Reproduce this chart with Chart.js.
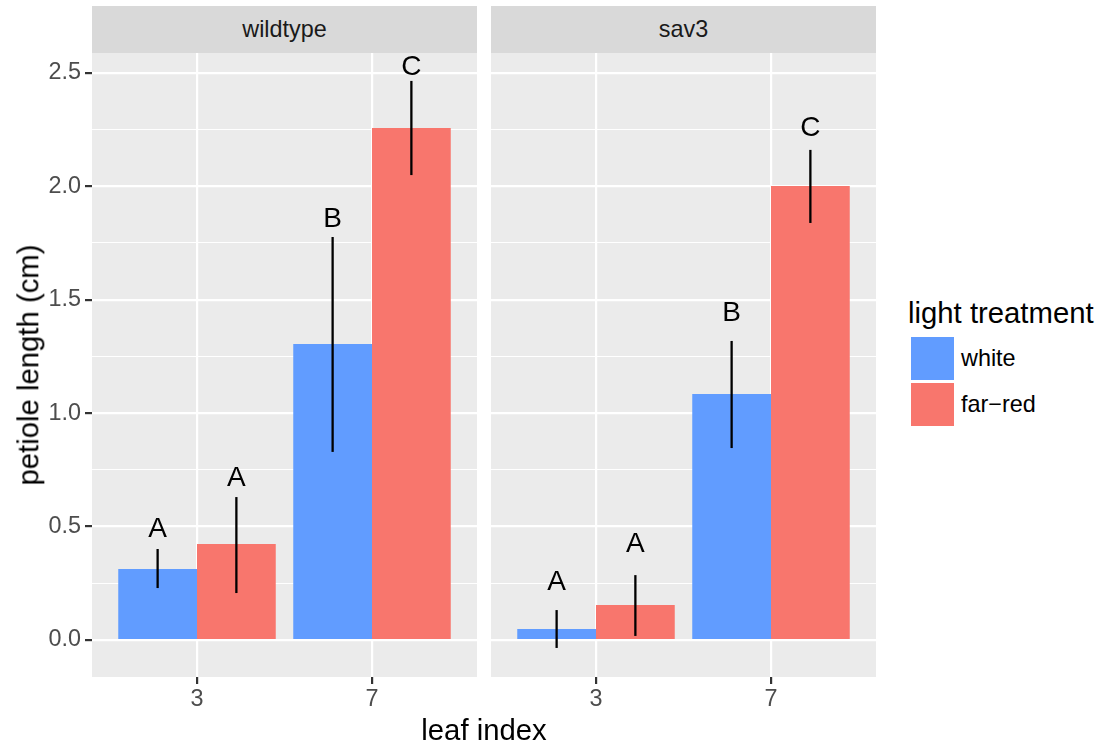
<!DOCTYPE html>
<html>
<head>
<meta charset="utf-8">
<script src="https://cdn.jsdelivr.net/npm/chart.js@4"></script>
<style>
body { margin: 0; background: #fff; font-family: "Liberation Sans", Arial, sans-serif; }
#wrap { position: relative; width: 1106px; height: 746px; overflow: hidden; }
.panel { position: absolute; top: 53px; height: 664px; }
.strip { position: absolute; top: 6px; height: 47px; width: 385px; background: #D9D9D9; color: #1A1A1A;
         font-size: 23.4px; text-align: center; line-height: 47px; }
.txt { position: absolute; line-height: 1; white-space: nowrap; color: #000; }
.key { position: absolute; left: 911px; width: 43px; height: 43px; }
</style>
</head>
<body>
<div id="wrap">
  <div class="strip" style="left:92px">wildtype</div>
  <div class="strip" style="left:491px">sav3</div>
  <div class="panel" style="left:0;width:477px"><canvas id="wt"></canvas></div>
  <div class="panel" style="left:491px;width:385px"><canvas id="sav"></canvas></div>

  <div class="txt" style="left:28px;top:365px;font-size:29.3px;transform:translate(-50%,-50%) rotate(-90deg)">petiole length (cm)</div>
  <div class="txt" style="left:484px;top:715px;font-size:29.3px;transform:translateX(-50%)">leaf index</div>

  <div class="txt" style="left:908px;top:298px;font-size:29.3px">light treatment</div>
  <div class="key" style="top:337px;background:#619CFF"></div>
  <div class="key" style="top:383px;background:#F8766D"></div>
  <div class="txt" style="left:961px;top:347px;font-size:23.4px">white</div>
  <div class="txt" style="left:961px;top:393px;font-size:23.4px">far&minus;red</div>
</div>
<script>
const FONT = '"Liberation Sans", Arial, sans-serif'

// data
const leafIndex = ['3','7']
const treatments = ['white','far-red']

const wtWhite = [0.313, 1.305]
const wtWhiteLo = [0.229, 0.829]
const wtWhiteHi = [0.401, 1.776]
const wtWhiteLetter = ['A','B']
const wtWhiteLetterY = [0.498, 1.864]

const wtRed = [0.423, 2.256]
const wtRedLo = [0.207, 2.049]
const wtRedHi = [0.630, 2.464]
const wtRedLetter = ['A','C']
const wtRedLetterY = [0.723, 2.534]

const savWhite = [0.048, 1.084]
const savWhiteLo = [-0.035, 0.846]
const savWhiteHi = [0.132, 1.318]
const savWhiteLetter = ['A','B']
const savWhiteLetterY = [0.264, 1.448]

const savRed = [0.154, 2.001]
const savRedLo = [0.018, 1.838]
const savRedHi = [0.286, 2.160]
const savRedLetter = ['A','C']
const savRedLetterY = [0.430, 2.265]

const yMajor = [0, 0.5, 1, 1.5, 2, 2.5]
const yLabels = ['0.0','0.5','1.0','1.5','2.0','2.5']
const yMinor = [0.25, 0.75, 1.25, 1.75, 2.25]

const colours = ['#619CFF', '#F8766D']

const panelBg = {
    id: 'panelBg',
    beforeDraw(c) {
        const a = c.chartArea
        c.ctx.save()
        c.ctx.fillStyle = '#EBEBEB'
        c.ctx.fillRect(a.left, a.top, a.right - a.left, a.bottom - a.top)
        c.ctx.restore()
    }
}

// error bars + significance letters, placed through the y scale
const errLetters = {
    id: 'errLetters',
    afterDatasetsDraw(c) {
        const ctx = c.ctx, y = c.scales.y
        ctx.save()
        c.data.datasets.forEach((ds, i) => {
            c.getDatasetMeta(i).data.forEach((bar, j) => {
                ctx.strokeStyle = '#000'
                ctx.lineWidth = 2.3
                ctx.beginPath()
                ctx.moveTo(bar.x, y.getPixelForValue(ds.lo[j]))
                ctx.lineTo(bar.x, y.getPixelForValue(ds.hi[j]))
                ctx.stroke()
                ctx.fillStyle = '#000'
                ctx.font = '28px ' + FONT
                ctx.textAlign = 'center'
                ctx.textBaseline = 'alphabetic'
                ctx.fillText(ds.letters[j], bar.x, y.getPixelForValue(ds.letterY[j]) + 10)
            })
        })
        ctx.restore()
    }
}

const isMajor = v => yMajor.includes(v)

const panel = (el, sets, showY) => new Chart(document.getElementById(el), {
    type: 'bar',
    data: {
        datasets: sets.map((s, k) => ({
            label: treatments[k],
            data: s.v.map((v, i) => ({ x: i + 1, y: v })),
            backgroundColor: colours[k],
            borderWidth: 0,
            lo: s.lo, hi: s.hi, letters: s.letters, letterY: s.letterY
        }))
    },
    options: {
        responsive: true,
        maintainAspectRatio: false,
        animation: false,
        layout: { padding: 0 },
        datasets: { bar: { categoryPercentage: 0.9, barPercentage: 1 } },
        plugins: { legend: { display: false }, tooltip: { enabled: false } },
        scales: {
            x: {
                type: 'linear', min: 0.4, max: 2.6, offset: false,
                afterBuildTicks: s => { s.ticks = leafIndex.map((_, i) => ({ value: i + 1 })) },
                afterFit: s => { s.height = 40; s.paddingLeft = 0; s.paddingRight = 0 },
                ticks: { callback: v => leafIndex[v - 1], color: '#4D4D4D', font: { size: 23.4, family: FONT },
                         padding: 2, maxRotation: 0, autoSkip: false },
                grid: { offset: false, color: '#fff', lineWidth: 2.2, tickColor: '#333', tickLength: 7, tickWidth: 2.2 },
                border: { display: false }
            },
            y: {
                type: 'linear', min: -0.163, max: 2.587,
                afterBuildTicks: s => { s.ticks = yMajor.concat(yMinor).sort((a, b) => a - b).map(v => ({ value: v })) },
                afterFit: s => { s.width = showY ? 92 : 0; s.paddingTop = 0; s.paddingBottom = 0 },
                ticks: { display: showY, callback: v => isMajor(v) ? yLabels[yMajor.indexOf(v)] : '',
                         color: '#4D4D4D', font: { size: 23.4, family: FONT }, padding: 4, autoSkip: false },
                grid: {
                    color: '#fff',
                    lineWidth: c => c.tick && isMajor(c.tick.value) ? 2.2 : 1.1,
                    drawTicks: showY, tickLength: 7, tickWidth: 2.2,
                    tickColor: c => c.tick && isMajor(c.tick.value) ? '#333' : 'rgba(0,0,0,0)'
                },
                border: { display: false }
            }
        }
    },
    plugins: [panelBg, errLetters]
})

panel('wt', [
    { v: wtWhite, lo: wtWhiteLo, hi: wtWhiteHi, letters: wtWhiteLetter, letterY: wtWhiteLetterY },
    { v: wtRed, lo: wtRedLo, hi: wtRedHi, letters: wtRedLetter, letterY: wtRedLetterY }
], true)
panel('sav', [
    { v: savWhite, lo: savWhiteLo, hi: savWhiteHi, letters: savWhiteLetter, letterY: savWhiteLetterY },
    { v: savRed, lo: savRedLo, hi: savRedHi, letters: savRedLetter, letterY: savRedLetterY }
], false)
</script>
</body>
</html>
